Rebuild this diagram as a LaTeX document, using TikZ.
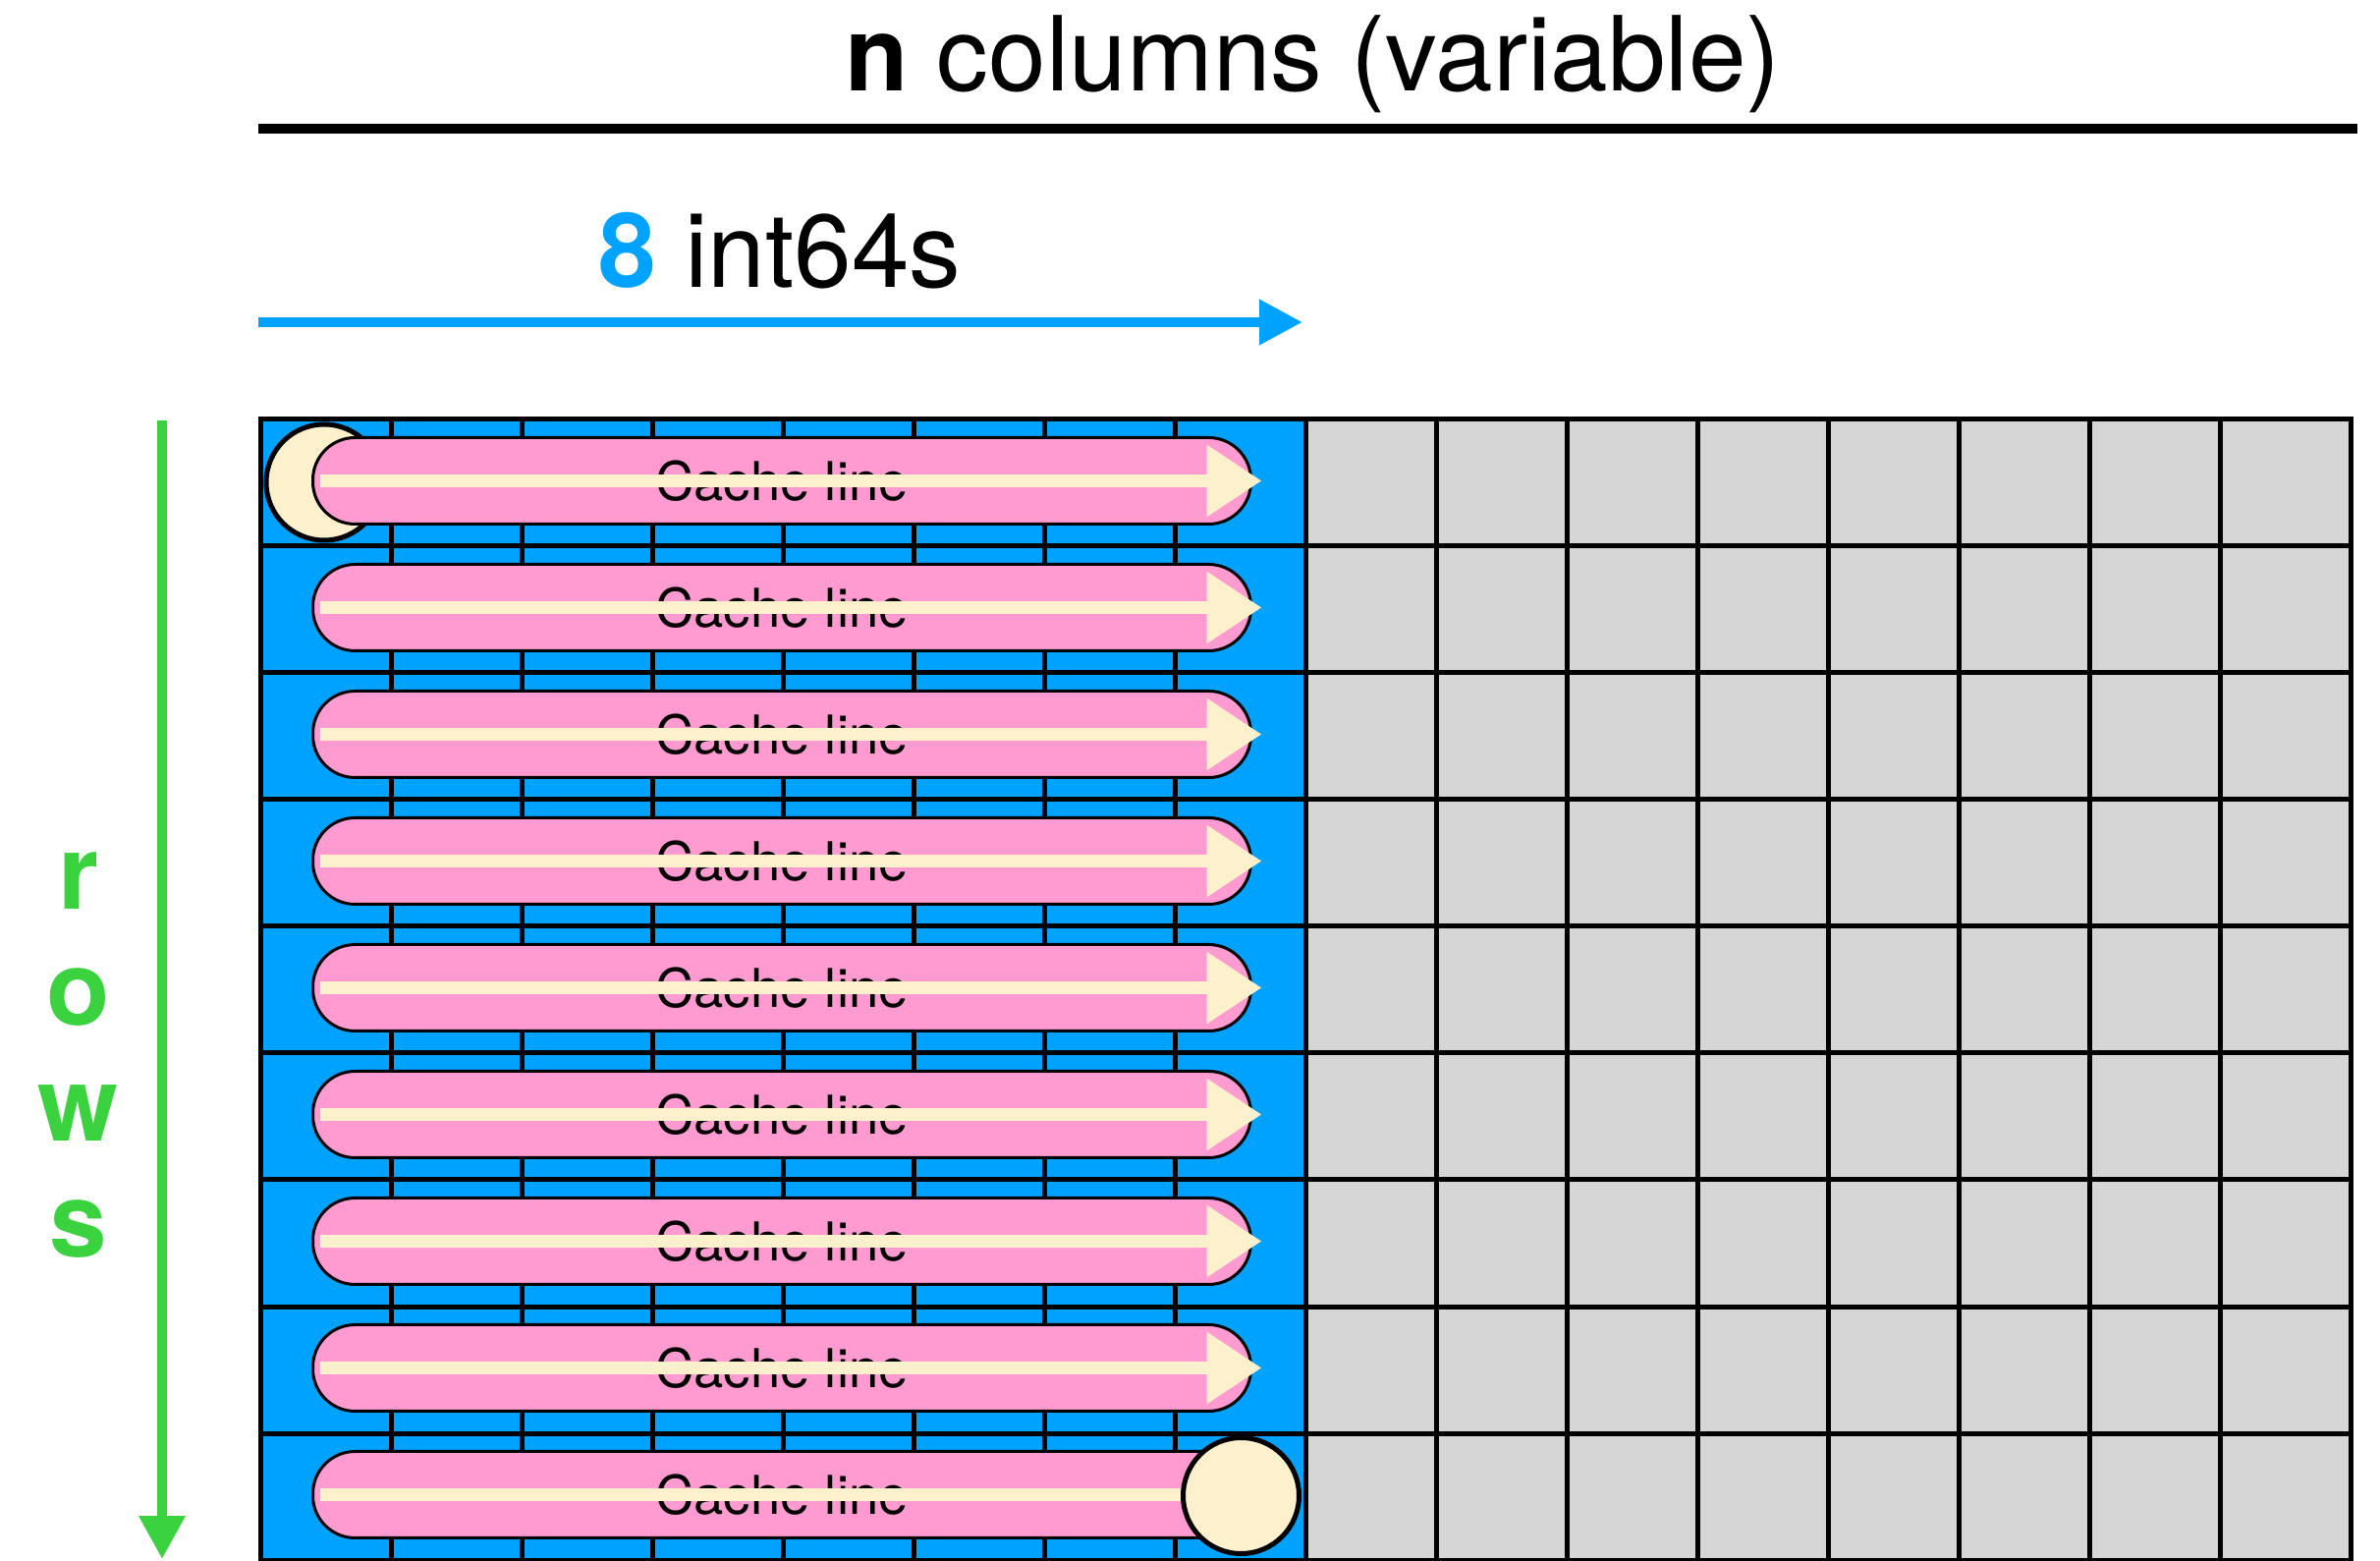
\documentclass[tikz,border=0pt]{standalone}
\usepackage{fontspec}
\setmainfont{TeX Gyre Heros}
\usetikzlibrary{arrows.meta,positioning}
\definecolor{cellblue}{HTML}{00A2FF}
\definecolor{cellgray}{HTML}{D5D5D5}
\definecolor{linepink}{HTML}{FF9BD0}
\definecolor{chalk}{HTML}{FDF0CC}
\definecolor{rowgreen}{HTML}{3BD240}
\tikzset{cell/.style={draw=black,line width=0.5mm,line cap=rect},cacheline/.style={draw=black,line width=0.3mm,fill=linepink,rounded corners=4.3mm,minimum width=95.5mm,minimum height=8.8mm,inner sep=0pt,font=\fontsize{15.5}{18}\selectfont},chalkarrow/.style={-{Triangle[length=5.6mm,width=7mm]},line width=1.3mm,draw=chalk},marker/.style={circle,draw=black,line width=0.5mm,fill=chalk,minimum size=11.8mm,inner sep=0pt},big/.style={font=\fontsize{30}{36}\selectfont},sizearrow/.style={-{Triangle[length=4.4mm,width=4.4mm]},line width=1mm,draw=cellblue},rowarrow/.style={-{Triangle[length=4.4mm,width=4.5mm]},line width=1mm,draw=rowgreen},rowletter/.style={font=\fontsize{30}{36}\selectfont\bfseries,text=rowgreen,inner sep=0pt}}

\begin{document}
\begin{tikzpicture}
\useasboundingbox (0,0) rectangle (24.23,15.88);
% header
\node[big,anchor=base] (title) at (13.365,14.95) {\textbf{n} columns (variable)};
\coordinate (ruleL) at (2.63,14.57);
\coordinate (ruleR) at (24.00,14.57);
\draw[line width=1mm] (ruleL) -- (ruleR);
\node[big,anchor=base] (span) at (7.94,12.95) {\textcolor{cellblue}{\textbf{8}} int64s};
\coordinate (spanL) at (2.63,12.60);
\coordinate (spanR) at (13.26,12.60);
\draw[sizearrow] (spanL) -- (spanR);
% rows
\coordinate (rowsT) at (1.65,11.60);
\coordinate (rowsB) at (1.65,0.01);
\draw[rowarrow] (rowsT) -- (rowsB);
\foreach \ch [count=\i] in {r,o,w,s}
  \node[rowletter] (rows\i) at (0.80,{6.91-(\i-1)*1.18}) {\ch};
% matrix cells
\fill[cellblue] (2.65,0) rectangle (13.29,11.61);
\fill[cellgray] (13.29,0) rectangle (23.93,11.61);
\foreach \c in {0,...,16}
  \draw[cell] ({2.65+\c*1.33},0) -- ({2.65+\c*1.33},11.61);
\foreach \r in {0,...,9}
  \draw[cell] (2.65,{\r*1.29}) -- (23.93,{\r*1.29});
% cache lines
\node[marker] (start) at (3.30,10.97) {};
\foreach \r in {1,...,9} {
  \node[cacheline] (line\r) at (7.96,{11.61-(\r-0.5)*1.29+0.02}) {Cache line};
  \draw[chalkarrow] ([xshift=0.85mm]line\r.west) -- ([xshift=0.95mm]line\r.east);
}
\node[marker] (stop) at (12.635,0.655) {};
\end{tikzpicture}
\end{document}
